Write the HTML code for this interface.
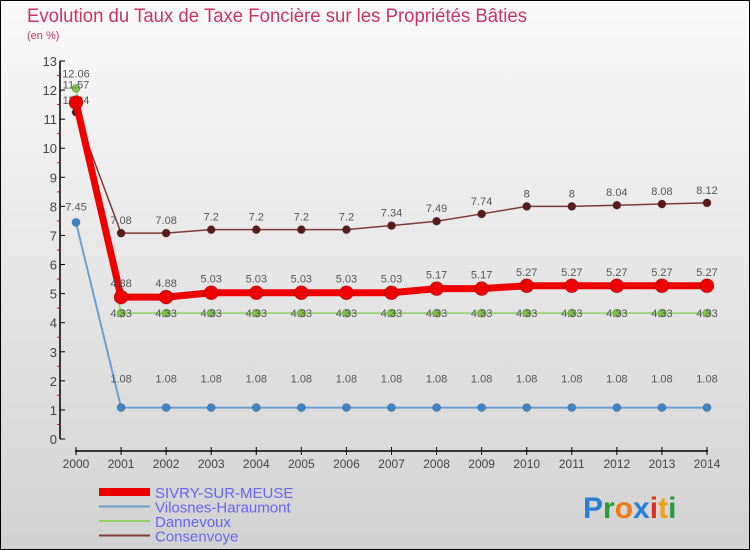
<!DOCTYPE html>
<html><head><meta charset="utf-8"><style>
body{margin:0;}
#c{width:750px;height:550px;position:relative;overflow:hidden;font-family:"Liberation Sans",sans-serif;}
</style></head><body>
<div id="c">
<svg id="s" width="750" height="550" xmlns="http://www.w3.org/2000/svg">
<defs><linearGradient id="bg" x1="0" y1="0" x2="0" y2="1"><stop offset="0" stop-color="#fafafa"/><stop offset="1" stop-color="#d2d2d2"/></linearGradient></defs>
<rect x="0.5" y="0.5" width="749" height="549" fill="url(#bg)" stroke="#000"/>
<text x="27" y="22" font-size="19" fill="#cc3366" textLength="500" lengthAdjust="spacingAndGlyphs">Evolution du Taux de Taxe Foncière sur les Propriétés Bâties</text>
<text x="27" y="39" font-size="11" fill="#cc3366">(en %)</text>
<g id="axes"></g><g id="series"></g><g id="legend"></g>
<text x="583" y="518" font-size="30" font-weight="bold"><tspan fill="#2a7fd4">P</tspan><tspan fill="#2a9a3a">r</tspan><tspan fill="#f07a10">o</tspan><tspan fill="#2a7fd4">x</tspan><tspan fill="#e03020">i</tspan><tspan fill="#f0a010">t</tspan><tspan fill="#2a9a3a">i</tspan></text>
</svg>
</div>
<script>
const years=[2000,2001,2002,2003,2004,2005,2006,2007,2008,2009,2010,2011,2012,2013,2014];
const yTicks=[0,1,2,3,4,5,6,7,8,9,10,11,12,13];
const sivry=[11.57,4.88,4.88,5.03,5.03,5.03,5.03,5.03,5.17,5.17,5.27,5.27,5.27,5.27,5.27];
const vilosnes=[7.45,1.08,1.08,1.08,1.08,1.08,1.08,1.08,1.08,1.08,1.08,1.08,1.08,1.08,1.08];
const dannevoux=[12.06,4.33,4.33,4.33,4.33,4.33,4.33,4.33,4.33,4.33,4.33,4.33,4.33,4.33,4.33];
const consenvoye=[11.24,7.08,7.08,7.2,7.2,7.2,7.2,7.34,7.49,7.74,8,8,8.04,8.08,8.12];
const NS="http://www.w3.org/2000/svg";
const X=i=>76+i*(707-76)/(years.length-1);
const Y=v=>439-v*(439-61)/13;
function mk(tag,attrs,parent,txt){const e=document.createElementNS(NS,tag);for(const k in attrs)e.setAttribute(k,attrs[k]);if(txt!==undefined)e.textContent=txt;parent.appendChild(e);return e;}
const ax=document.getElementById('axes');
let e=mk('line',{x1:60,y1:Y(0),x2:60,y2:Y(13),stroke:'#000','stroke-width':1.5},ax);

e=mk('line',{x1:X(0)-1,y1:451,x2:X(14)+1,y2:451,stroke:'#000','stroke-width':1.5},ax);

yTicks.forEach(t=>{mk('line',{x1:60,y1:Y(t),x2:65,y2:Y(t),stroke:'#000'},ax);
 if(t<13)mk('line',{x1:57,y1:Y(t+0.5),x2:60,y2:Y(t+0.5),stroke:'#e00'},ax);
 e=mk('text',{x:57,y:Y(t)+5,'font-size':13,fill:'#444','text-anchor':'end'},ax,t);
 });
years.forEach((y,i)=>{mk('line',{x1:X(i),y1:447,x2:X(i),y2:455,stroke:'#000'},ax);
 e=mk('text',{x:X(i),y:468,'font-size':12,fill:'#444','text-anchor':'middle'},ax,y);
 });
const sg=document.getElementById('series');
const loff0={vilosnes:-12,dannevoux:-11,sivry:-14,consenvoye:-8};
function series(data,name,col,lw,r,dot,labels,loff){
 const g=mk('g',{},sg);
 mk('polyline',{points:data.map((v,i)=>X(i)+','+Y(v)).join(' '),fill:'none',stroke:col,'stroke-width':lw},g);
 data.forEach((v,i)=>{e=mk('circle',{cx:X(i),cy:Y(v),r:r,fill:dot,stroke:'#0003'},g);
  
  if(labels){const t=mk('text',{x:X(i),y:Y(v)+(i==0?loff0[name]:loff),'font-size':11,fill:'#555','text-anchor':'middle'},g,String(v));
   }});
}
series(consenvoye,'consenvoye','#7a3a3a',1.5,4,'#5a1a1a',true,-9);
series(dannevoux,'dannevoux','#8fd060',1.5,4,'#7cc444',true,4);
series(vilosnes,'vilosnes','#6aa0d0',2,4,'#3a86c8',true,-25);
series(sivry,'sivry','#ee0000',7,7,'#ee0000',true,-10);
const lg=document.getElementById('legend');
const leg=[['SIVRY-SUR-MEUSE','#ee0000',8],['Vilosnes-Haraumont','#6aa0d0',2],['Dannevoux','#8fd060',2],['Consenvoye','#7a3a3a',2]];
leg.forEach((l,i)=>{const y=492+i*14.5;const g=mk('g',{},lg);
 
 mk('line',{x1:99,y1:y,x2:150,y2:y,stroke:l[1],'stroke-width':l[2]},g);
 mk('text',{x:155,y:y+6,'font-size':15,fill:'#6666ee'},g,l[0]);});
</script>
</body></html>
